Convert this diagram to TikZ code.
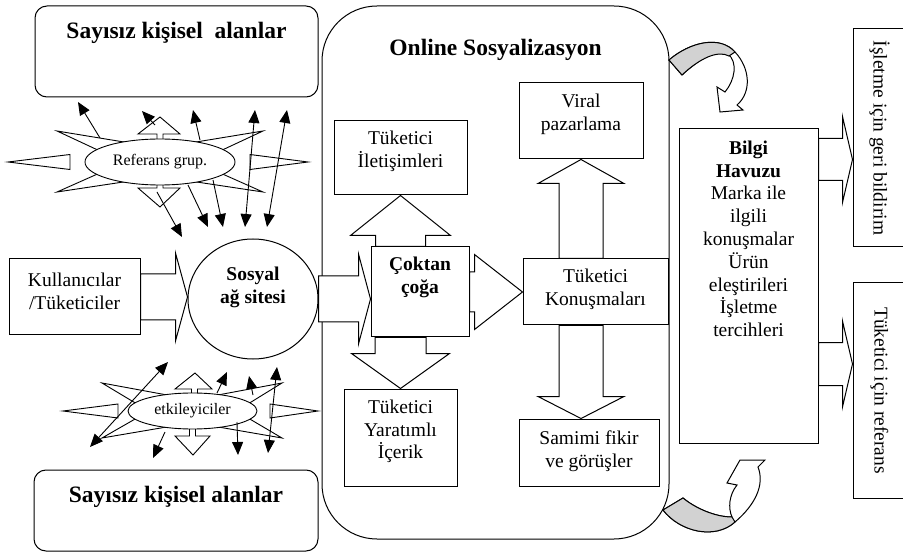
\documentclass[tikz,border=0pt]{standalone}
\usepackage{fontspec}
\setmainfont{Liberation Serif}
\usetikzlibrary{calc,arrows.meta,shapes.geometric}

\tikzset{
  box/.style={draw, line width=1pt, fill=white, inner sep=0pt},
  txt/.style={font=\fontsize{19.5}{22.8}\selectfont, align=center, inner sep=0pt},
  txtb/.style={font=\bfseries\fontsize{19.5}{22.8}\selectfont, align=center, inner sep=0pt},
  headtxt/.style={font=\bfseries\fontsize{23.5}{27}\selectfont, inner sep=0pt},
  smalltxt/.style={font=\fontsize{16}{19}\selectfont, inner sep=0pt},
  spike/.style={draw, line width=0.9pt, fill=white},
  pointer/.style={line width=0.9pt, -{Triangle[length=13pt,width=11pt]}},
  twopointer/.style={line width=0.9pt, {Triangle[length=13pt,width=11pt]}-{Triangle[length=13pt,width=11pt]}},
  blockarr/.style={draw, line width=1pt, fill=white},
  ribbon/.style={draw, line width=1pt, fill=white},
  shade/.style={draw, line width=1pt, fill=gray!35},
}

% block arrow: start, tip, half shaft, half head, head length
\newcommand{\blockarrow}[5]{%
  \coordinate (ba-s) at #1;
  \coordinate (ba-t) at #2;
  \coordinate (ba-h) at ($(ba-t)!#5!(ba-s)$);
  \draw[blockarr] ($(ba-s)!#3!90:(ba-t)$) -- ($(ba-h)!#3!90:(ba-t)$) -- ($(ba-h)!#4!90:(ba-t)$)
    -- (ba-t) -- ($(ba-h)!#4!-90:(ba-t)$) -- ($(ba-h)!#3!-90:(ba-t)$) -- ($(ba-s)!#3!-90:(ba-t)$) -- cycle;}

\begin{document}
\begin{tikzpicture}[x=1pt,y=-1pt]
\useasboundingbox (0,0) rectangle (903,556);

% online sosyalizasyon
\node[box, fill=none, rounded corners=55pt, minimum width=347pt, minimum height=533pt] (onl) at (495.5,272.5) {};
\node[headtxt] (onlt) at ($(onl.north)+(0,44)$) {Online Sosyalizasyon};

% kisisel alanlar
\node[box, rounded corners=12pt, minimum width=283pt, minimum height=91pt] (sk1) at (176.5,51.5) {};
\node[headtxt] (sk1t) at ($(sk1.north)+(0,27)$) {Sayısız kişisel~ alanlar};
\node[box, rounded corners=12pt, minimum width=284pt, minimum height=81pt] (sk2) at (176,510.5) {};
\node[headtxt] (sk2t) at ($(sk2.north)+(0,27)$) {Sayısız kişisel alanlar};

% referans grubu
\begin{scope}[shift={(160,162)}]
  \foreach \t/\a/\b in {{-152,0}/{-90,-7.5}/{-90,7.5}, {148,0}/{90,-7.5}/{90,7.5},
      {-103,-31}/{-30,-19}/{-58,-10}, {-103,30}/{-30,19}/{-58,10},
      {103,-31}/{30,-19}/{58,-10}, {103,30}/{30,19}/{58,10}}
    \filldraw[spike] (\t) -- (\a) -- (\b) -- cycle;
  \filldraw[spike] (-3,-22) -- (-3,-28) -- (-22,-28) -- (0,-45) -- (20,-28) -- (3,-28) -- (3,-22);
  \filldraw[spike] (-3,22) -- (-3,26) -- (-22,26) -- (0,45) -- (20,26) -- (3,26) -- (3,22);
\end{scope}
\node[spike, ellipse, inner sep=0pt, minimum width=150pt, minimum height=46pt, smalltxt] (ref) at (160,162) {Referans grup.};
\begin{scope}[shift={(160,162)}]
  \draw[pointer] (-60,-24) -- (-82,-60);
  \draw[pointer] (-5,-37) -- (-18,-51);
  \draw[pointer] (40,-22) -- (33,-52);
  \draw[twopointer] (95,-52) -- (85,65);
  \draw[twopointer] (127,-52) -- (107,65);
  \draw[pointer] (-3,30) -- (22,75);
  \draw[pointer] (28,23) -- (48,65);
  \draw[pointer] (53,18) -- (63,65);
\end{scope}

% etkileyiciler
\begin{scope}[shift={(192.5,411)}]
  \foreach \t/\a/\b in {{-129.5,0}/{-74.5,-7}/{-74.5,7}, {125.5,0}/{77.5,-7}/{77.5,7},
      {-90.5,-28}/{-20,-15}/{-53,-5.5}, {-90.5,27}/{-20,15}/{-53,5.5},
      {89.5,-28}/{20,-15}/{53,-5.5}, {89.5,27}/{20,15}/{53,5.5}}
    \filldraw[spike] (\t) -- (\a) -- (\b) -- cycle;
  \filldraw[spike] (-1,-17) -- (-1,-22) -- (-17.5,-22) -- (2.5,-38) -- (19.5,-22) -- (5,-22) -- (5,-17);
  \filldraw[spike] (-3,17) -- (-3,25) -- (-17.5,25) -- (0.5,44) -- (17.5,25) -- (3,25) -- (3,17);
\end{scope}
\node[spike, ellipse, inner sep=0pt, minimum width=129pt, minimum height=36pt, smalltxt] (etk) at (192.5,411) {etkileyiciler};
\begin{scope}[shift={(192.5,411)}]
  \draw[twopointer] (-102.5,36) -- (-24.5,-49);
  \draw[pointer] (-27.5,21) -- (-39.5,47);
  \draw[pointer] (24.5,-18) -- (34.5,-39);
  \draw[pointer] (60.5,-16) -- (56.5,-35);
  \draw[twopointer] (84.5,-44) -- (75.5,42);
  \draw[pointer] (44.5,11) -- (45.5,44);
\end{scope}

% kutular
\node[box, minimum width=131pt, minimum height=76pt] (kul) at (74.5,297) {};
\node[txt] (kult) at ($(kul)+(0,-6)$) {Kullanıcılar\\/Tüketiciler};
\node[box, ellipse, minimum width=130pt, minimum height=120pt] (sos) at (253,299) {};
\node[txtb] (sost) at ($(sos)+(0,-12)$) {Sosyal\\ağ sitesi};
\node[box, minimum width=133pt, minimum height=74pt] (tic) at (400.5,158) {};
\node[txt] (tict) at ($(tic)+(0,-7)$) {Tüketici\\İletişimleri};
\node[box, minimum width=124pt, minimum height=76pt] (vir) at (581,121) {};
\node[txt] (virt) at ($(vir)+(0,-7)$) {Viral\\pazarlama};
\node[box, minimum width=98pt, minimum height=90pt] (cok) at (420,292) {};
\node[txtb] (cokt) at ($(cok)+(0,-15)$) {Çoktan\\çoğa};
\node[box, minimum width=113pt, minimum height=97pt] (yar) at (400.5,437.5) {};
\node[txt] (yart) at ($(yar)+(0,-6)$) {Tüketici\\Yaratımlı\\İçerik};
\node[box, minimum width=145pt, minimum height=66pt] (kon) at (595.5,292) {};
\node[txt] (kont) at ($(kon)+(0,-3)$) {Tüketici\\Konuşmaları};
\node[box, minimum width=140pt, minimum height=67pt] (sam) at (589,452.5) {};
\node[txt] (samt) at ($(sam)+(0,-1)$) {Samimi fikir\\ve görüşler};
\node[box, minimum width=139pt, minimum height=314pt] (bil) at (748.5,286) {};
\node[txt, anchor=north] (bilt) at ($(bil.north)+(0,12)$) {\textbf{Bilgi}\\\textbf{Havuzu}\\Marka ile\\ilgili\\konuşmalar\\Ürün\\eleştirileri\\İşletme\\tercihleri};
\node[box, txt, rotate=-90, minimum width=218pt, minimum height=53pt] (gb) at (879.5,138) {İşletme için geri bildirim};
\node[box, txt, rotate=-90, minimum width=215pt, minimum height=53pt] (tr) at (879.5,390.5) {Tüketici için referans};
\coordinate (fb) at ($(bil.north east)+(0,31)$);
\coordinate (rf) at ($(bil.north east)+(0,235.5)$);

% blok oklar
\blockarrow{(kul.east)}{(sos.west |- kul.east)}{23pt}{44pt}{12pt}
\blockarrow{(sos.east)}{(cok.west |- sos.east)}{23pt}{45pt}{12pt}
\blockarrow{(cok.east)}{(kon.west)}{20pt}{37.5pt}{48pt}
\blockarrow{(tic.south |- cok.north)}{(tic.south)}{25pt}{50pt}{40pt}
\blockarrow{(yar.north |- cok.south)}{(yar.north)}{25.5pt}{49pt}{35pt}
\blockarrow{(vir.south |- kon.north)}{(vir.south)}{22pt}{43pt}{24pt}
\blockarrow{(vir.south |- kon.south)}{(vir.south |- sam.north)}{22pt}{43pt}{22pt}
\blockarrow{(fb)}{(gb.south |- fb)}{21pt}{43pt}{10pt}
\blockarrow{(rf)}{(tr.south |- rf)}{21.5pt}{43pt}{10pt}

% kivrik oklar
\filldraw[ribbon] (669,60) .. controls (690,42) and (720,35) .. (735,52) .. controls (750,68) and (752,92) .. (737,105)
  -- (743,110) -- (720,112) -- (717,87) -- (725,92) .. controls (735,80) and (738,62) .. (728,54)
  .. controls (720,48) and (700,58) .. (682,75) -- cycle;
\filldraw[shade] (669,60) .. controls (690,42) and (720,35) .. (735,52) -- (729,56)
  .. controls (718,50) and (700,58) .. (682,75) -- cycle;
\filldraw[ribbon] (663,510) .. controls (680,532) and (715,540) .. (735,522) .. controls (755,505) and (765,485) .. (758,467)
  -- (765,460) -- (740,460) -- (727,483) -- (737,485) .. controls (729,495) and (728,508) .. (732,517)
  .. controls (715,517) and (695,508) .. (683,498) -- cycle;
\filldraw[shade] (663,510) .. controls (680,532) and (715,540) .. (735,522) -- (732,517)
  .. controls (715,517) and (695,508) .. (683,498) -- cycle;
\end{tikzpicture}
\end{document}
